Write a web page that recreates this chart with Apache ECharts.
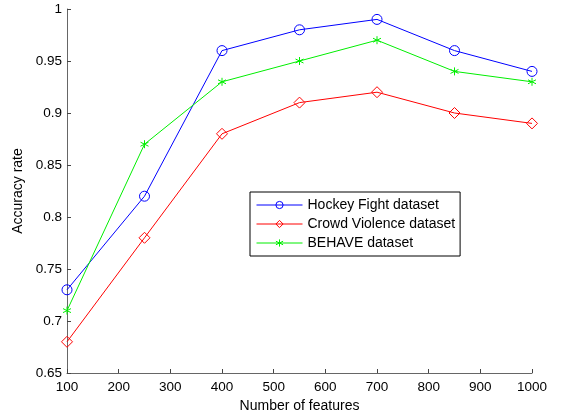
<!DOCTYPE html>
<html>
<head>
<meta charset="utf-8">
<script src="https://cdn.jsdelivr.net/npm/echarts@6/dist/echarts.min.js"></script>
<style>
  html, body { margin: 0; padding: 0; background: #fff; }
  #chart { width: 563px; height: 418px; }
</style>
</head>
<body>
<div id="chart"></div>
<script>
const features = [100, 250, 400, 550, 700, 850, 1000];
const hockey = [0.73, 0.82, 0.96, 0.98, 0.99, 0.96, 0.94];
const crowd = [0.68, 0.78, 0.88, 0.91, 0.92, 0.90, 0.89];
const behave = [0.71, 0.87, 0.93, 0.95, 0.97, 0.94, 0.93];

const asterisk = 'path://M0,-10L0,10M-8.66,-5L8.66,5M-8.66,5L8.66,-5';
const font = 'Liberation Sans, Arial, sans-serif';

function pairs(ys) {
  return features.map((x, i) => [x, ys[i]]);
}

function makeSeries(name, ys, color, symbol, size) {
  return {
    name: name,
    type: 'line',
    data: pairs(ys),
    symbol: symbol,
    symbolSize: size,
    showAllSymbol: true,
    lineStyle: { color: color, width: 1 },
    itemStyle: { color: 'none', borderColor: color, borderWidth: 1 },
    emphasis: { disabled: true },
    animation: false
  };
}

const chart = echarts.init(document.getElementById('chart'));
chart.setOption({
  textStyle: { fontFamily: font },
  grid: { left: 67, right: 31, top: 9, bottom: 44 },
  xAxis: {
    type: 'value',
    min: 100,
    max: 1000,
    interval: 100,
    name: 'Number of features',
    nameLocation: 'middle',
    nameGap: 26,
    nameTextStyle: { color: '#000', fontSize: 14 },
    axisLine: { lineStyle: { color: '#666' } },
    axisTick: { inside: true, length: 4, lineStyle: { color: '#444' } },
    axisLabel: { color: '#000', fontSize: 13.5, margin: 7, formatter: v => String(v) },
    splitLine: { show: false }
  },
  yAxis: {
    type: 'value',
    min: 0.65,
    max: 1,
    interval: 0.05,
    name: 'Accuracy rate',
    nameLocation: 'middle',
    nameGap: 37,
    nameTextStyle: { color: '#000', fontSize: 14 },
    axisLine: { show: true, lineStyle: { color: '#666' } },
    axisTick: { show: true, inside: true, length: 4, lineStyle: { color: '#444' } },
    axisLabel: { color: '#000', fontSize: 13.5, margin: 5,
      formatter: v => String(parseFloat(v.toFixed(2))) },
    splitLine: { show: false }
  },
  legend: {
    orient: 'vertical',
    left: 250,
    top: 192,
    padding: [6, 5, 6, 6],
    itemGap: 5,
    itemWidth: 46,
    itemHeight: 9,
    borderColor: '#000',
    borderWidth: 1,
    backgroundColor: '#fff',
    lineStyle: { width: 1 },
    itemStyle: { borderWidth: 1 },
    textStyle: { color: '#000', fontSize: 14, fontFamily: font },
    data: ['Hockey Fight dataset', 'Crowd Violence dataset', 'BEHAVE dataset']
  },
  series: [
    makeSeries('Hockey Fight dataset', hockey, '#0000ff', 'circle', 10),
    makeSeries('Crowd Violence dataset', crowd, '#ff0000', 'diamond', 11),
    makeSeries('BEHAVE dataset', behave, '#00ee00', asterisk, 8)
  ]
});
</script>
</body>
</html>
